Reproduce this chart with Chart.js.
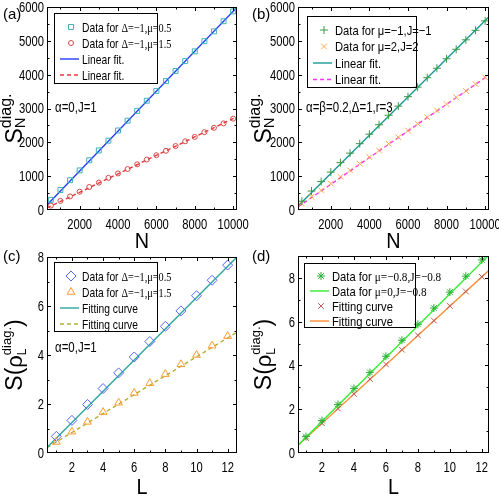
<!DOCTYPE html>
<html>
<head>
<meta charset="utf-8">
<script src="https://cdn.jsdelivr.net/npm/chart.js@4.4.1/dist/chart.umd.min.js"></script>
<style>
  body { margin: 0; background: #fff; }
  #wrap { position: relative; width: 499px; height: 499px; }
  .panel { position: absolute; width: 250px; height: 250px; }
</style>
</head>
<body>
<div id="wrap">
  <div class="panel" style="left:0;top:0"><canvas id="chartA" width="250" height="250"></canvas></div>
  <div class="panel" style="left:249px;top:0"><canvas id="chartB" width="250" height="250"></canvas></div>
  <div class="panel" style="left:0;top:249px"><canvas id="chartC" width="250" height="250"></canvas></div>
  <div class="panel" style="left:249px;top:249px"><canvas id="chartD" width="250" height="250"></canvas></div>
</div>
<script>
// ---- data ----
const nValues = [500, 1000, 1500, 2000, 2500, 3000, 3500, 4000, 4500, 5000,
                 5500, 6000, 6500, 7000, 7500, 8000, 8500, 9000, 9500, 10000];
const lValues = [1, 2, 3, 4, 5, 6, 7, 8, 9, 10, 11, 12];

// (a)
const squaresA = [300, 590, 880, 1170, 1470, 1760, 2050, 2350, 2640, 2930,
                  3230, 3520, 3810, 4110, 4400, 4690, 4990, 5280, 5580, 5870];
const circlesA = [130, 270, 400, 540, 680, 810, 950, 1080, 1210, 1350,
                  1490, 1620, 1750, 1890, 2030, 2160, 2300, 2430, 2560, 2700];
const fitNRange = [300, 10200];
const blueFitA = [150, 5990];
const redFitA = [60, 2760];

// (b)
const plusB = [260, 560, 840, 1120, 1400, 1680, 1960, 2240, 2520, 2800,
               3070, 3350, 3630, 3910, 4190, 4470, 4750, 5030, 5310, 5590];
const crossB = [190, 390, 580, 780, 980, 1170, 1370, 1560, 1760, 1960,
                2150, 2350, 2550, 2740, 2940, 3130, 3330, 3520, 3720, 3920];
const tealFitB = [120, 5710];
const magentaFitB = [90, 3990];

// (c)
const diamondsC = [0.68, 1.33, 1.98, 2.63, 3.27, 3.92, 4.55, 5.17, 5.80, 6.42, 7.05, 7.67];
const trianglesC = [0.45, 0.87, 1.27, 1.67, 2.05, 2.45, 2.85, 3.22, 3.62, 4.00, 4.38, 4.77];
const fitLRangeC = [0.4, 12.6];
const tealFitC = [0.22, 8.0];
const oliveFitC = [0.22, 4.93];

// (d)
const starsD = [0.75, 1.48, 2.22, 2.95, 3.68, 4.42, 5.15, 5.88, 6.62, 7.35, 8.08, 8.82];
const crossesD = [0.68, 1.36, 2.03, 2.70, 3.38, 4.05, 4.72, 5.38, 6.05, 6.72, 7.38, 8.05];
const fitLRangeD = [0.5, 12.45];
const greenFitD = [0.35, 9.05];
const orangeFitD = [0.35, 8.35];

// tick labels
const nTicks = [2000, 4000, 6000, 8000, 10000];
const sTicksAB = [0, 1000, 2000, 3000, 4000, 5000, 6000];
const lTicks = [2, 4, 6, 8, 10, 12];
const sTicksCD = [0, 2, 4, 6, 8];

const SANS = '"Liberation Sans", Arial, sans-serif';
const SERIF = '"Liberation Serif", "Times New Roman", serif';

const pts = (xs, ys) => xs.map((x, i) => ({ x: x, y: ys[i] }));

function scatter(data, style, color, radius) {
  return {
    type: 'scatter', data: data, pointStyle: style, pointRadius: radius,
    borderColor: color, backgroundColor: 'rgba(0,0,0,0)', pointBorderWidth: 1,
    showLine: false
  };
}
function fitLine(data, color, dash) {
  return {
    type: 'line', data: data, borderColor: color, borderWidth: 1.4,
    borderDash: dash ? [4, 3] : [], pointRadius: 0, fill: false
  };
}

// condensed text, the original uses a narrow face
function narrowText(ctx, text, x, y, sx) {
  ctx.save();
  ctx.translate(x, y);
  ctx.scale(sx, 1);
  ctx.fillText(text, 0, 0);
  ctx.restore();
}

// draws text made of pieces (sub / superscripts); stack:true means the next piece shares x
function drawRich(ctx, items) {
  const w = items.map(it => { ctx.font = it.size + 'px ' + (it.font || SANS); return ctx.measureText(it.t).width; });
  let total = 0, hold = 0;
  items.forEach((it, i) => {
    if (it.stack) hold = Math.max(hold, w[i]);
    else { total += Math.max(hold, w[i]); hold = 0; }
  });
  let x = -total / 2; hold = 0;
  items.forEach((it, i) => {
    ctx.font = it.size + 'px ' + (it.font || SANS);
    ctx.fillText(it.t, x, it.dy || 0);
    if (it.stack) hold = Math.max(hold, w[i]);
    else { x += Math.max(hold, w[i]); hold = 0; }
  });
}

const decoPlugin = {
  id: 'deco',
  afterDraw(chart, args, o) {
    const ctx = chart.ctx, a = chart.chartArea;
    const xs = chart.scales.x, ys = chart.scales.y;
    ctx.save();
    ctx.strokeStyle = '#000';
    ctx.fillStyle = '#000';
    ctx.lineWidth = 1;
    ctx.strokeRect(Math.round(a.left) + 0.5, Math.round(a.top) + 0.5,
                   Math.round(a.right - a.left) - 1, Math.round(a.bottom - a.top) - 1);

    // inward ticks on all four sides
    const minor = (major, step, lo, hi) => {
      const out = [];
      for (let v = major[0] - step; v >= lo; v -= step * 2) out.push(v);
      major.forEach(v => { if (v + step <= hi) out.push(v + step); });
      return out;
    };
    const xTick = (vals, len) => vals.forEach(v => {
      const px = Math.round(xs.getPixelForValue(v)) + 0.5;
      ctx.beginPath();
      ctx.moveTo(px, a.bottom); ctx.lineTo(px, a.bottom - len);
      ctx.moveTo(px, a.top); ctx.lineTo(px, a.top + len);
      ctx.stroke();
    });
    const yTick = (vals, len) => vals.forEach(v => {
      const py = Math.round(ys.getPixelForValue(v)) + 0.5;
      ctx.beginPath();
      ctx.moveTo(a.left, py); ctx.lineTo(a.left + len, py);
      ctx.moveTo(a.right, py); ctx.lineTo(a.right - len, py);
      ctx.stroke();
    });
    xTick(o.xMajor, 4);
    xTick(minor(o.xMajor, o.xStep, xs.min, xs.max), 2.5);
    yTick(o.yMajor.filter(v => v > ys.min && v < ys.max), 4);
    yTick(minor(o.yMajor, o.yStep, ys.min, ys.max), 2.5);

    // tick labels
    ctx.font = '14px ' + SANS;
    ctx.textBaseline = 'middle';
    ctx.textAlign = 'center';
    o.xMajor.forEach(v => narrowText(ctx, String(v), xs.getPixelForValue(v), a.bottom + 15, 0.8));
    ctx.textAlign = 'right';
    o.yMajor.forEach(v => narrowText(ctx, String(v), a.left - 3, ys.getPixelForValue(v) + 1, 0.8));

    // panel label
    ctx.font = '15px ' + SANS;
    ctx.textBaseline = 'alphabetic';
    ctx.textAlign = 'left';
    ctx.fillText(o.label, 3, o.labelY);

    // x title
    ctx.font = '22px ' + SANS;
    ctx.textAlign = 'center';
    narrowText(ctx, o.xTitle, (a.left + a.right) / 2, o.xTitleY, 0.9);

    // y title (rotated)
    ctx.save();
    ctx.translate(o.yTitleX, (a.top + a.bottom) / 2 + (o.yTitleShift || 0));
    ctx.rotate(-Math.PI / 2);
    ctx.textAlign = 'left';
    drawRich(ctx, o.yTitle);
    ctx.restore();

    // note
    ctx.textAlign = 'left';
    ctx.font = '14px ' + SANS;
    narrowText(ctx, o.note[0], o.note[1], o.note[2], 0.82);

    // legend box
    const L = o.legend;
    ctx.strokeRect(L.x + 0.5, L.y + 0.5, L.w, L.h);
    chart.data.datasets.forEach((ds, i) => {
      const ent = L.items[i];
      const yy = L.y + L.first + i * L.gap;
      const mx = L.x + 17;
      ctx.strokeStyle = ds.borderColor;
      if (ds.type === 'line') {
        ctx.lineWidth = 1.4;
        ctx.setLineDash(ds.borderDash);
        ctx.beginPath();
        ctx.moveTo(L.x + 6, yy); ctx.lineTo(L.x + 25, yy);
        ctx.stroke();
        ctx.setLineDash([]);
      } else {
        ctx.lineWidth = 1;
        ctx.fillStyle = 'rgba(0,0,0,0)';
        Chart.helpers.drawPoint(ctx, { pointStyle: ds.pointStyle, radius: ds.pointRadius, rotation: 0, borderWidth: 1 }, mx, yy);
      }
      // text, condensed like the original
      ctx.fillStyle = '#000';
      ctx.save();
      ctx.translate(L.x + 28, yy + 4.5);
      ctx.scale(L.sx, 1);
      let tx = 0;
      ent.forEach(p => {
        ctx.font = '13px ' + (p[1] === 's' ? SERIF : SANS);
        ctx.fillText(p[0], tx, 0);
        tx += ctx.measureText(p[0]).width;
      });
      ctx.restore();
    });
    ctx.restore();
  }
};

function makePanel(id, datasets, sc, deco) {
  new Chart(document.getElementById(id), {
    data: { datasets: datasets },
    plugins: [decoPlugin],
    options: {
      responsive: false,
      animation: false,
      layout: { padding: sc.pad },
      plugins: { legend: { display: false }, tooltip: { enabled: false }, deco: deco },
      scales: {
        x: {
          type: 'linear', min: sc.xMin, max: sc.xMax,
          afterBuildTicks: s => { s.ticks = sc.xTicks.map(v => ({ value: v })); },
          afterFit: s => { s.height = sc.xH; },
          grid: { display: false }, border: { display: false },
          ticks: { display: false }
        },
        y: {
          type: 'linear', min: sc.yMin, max: sc.yMax,
          afterBuildTicks: s => { s.ticks = sc.yTicks.map(v => ({ value: v })); },
          afterFit: s => { s.width = sc.yW; },
          grid: { display: false }, border: { display: false },
          ticks: { display: false }
        }
      }
    }
  });
}

const titleSN = [
  { t: 'S', size: 23 },
  { t: 'N', size: 15, dy: 3, stack: true },
  { t: 'diag.', size: 16, dy: -11 }
];
const titleRho = [
  { t: 'S(', size: 23 },
  { t: 'ρ', size: 22, font: SANS },
  { t: 'L', size: 12, dy: 4, stack: true },
  { t: 'diag.', size: 13, dy: -11 },
  { t: ')', size: 23 }
];

// (a)
makePanel('chartA', [
  scatter(pts(nValues, squaresA), 'rect', '#3fb0b8', 3.5),
  scatter(pts(nValues, circlesA), 'circle', '#d04a4a', 2.5),
  fitLine(pts(fitNRange, blueFitA), '#1f3cff', false),
  fitLine(pts(fitNRange, redFitA), '#ee3333', true)
], { pad: { top: 7, right: 13 }, xMin: 300, xMax: 10200, yMin: 0, yMax: 6000, xTicks: nTicks, yTicks: sTicksAB, xH: 40, yW: 47 },
{ label: '(a)', labelY: 19, xMajor: nTicks, xStep: 1000, yMajor: sTicksAB, yStep: 500,
  xTitle: 'N', xTitleY: 248, yTitle: titleSN, yTitleX: 22, yTitleShift: 10,
  note: ['α=0,J=1', 55, 112],
  legend: { x: 54, y: 13, w: 103, h: 70, first: 14, gap: 16, sx: 0.79,
    items: [[['Data for ', 'a'], ['Δ=−1,μ=0.5', 's']], [['Data for ', 'a'], ['Δ=−1,μ=1.5', 's']], [['Linear fit.', 'a']], [['Linear fit.', 'a']]] } });

// (b)
makePanel('chartB', [
  scatter(pts(nValues, plusB), 'cross', '#3a9a4a', 4),
  scatter(pts(nValues, crossB), 'crossRot', '#ffa64d', 4),
  fitLine(pts(fitNRange, tealFitB), '#1a9a96', false),
  fitLine(pts(fitNRange, magentaFitB), '#ff33ff', true)
], { pad: { top: 7, right: 10 }, xMin: 300, xMax: 10200, yMin: 0, yMax: 6000, xTicks: nTicks, yTicks: sTicksAB, xH: 40, yW: 49 },
{ label: '(b)', labelY: 19, xMajor: nTicks, xStep: 1000, yMajor: sTicksAB, yStep: 500,
  xTitle: 'N', xTitleY: 248, yTitle: titleSN, yTitleX: 22, yTitleShift: 10,
  note: ['α=β=0.2,Δ=1,r=3', 57, 112],
  legend: { x: 58, y: 16, w: 109, h: 71, first: 14, gap: 16.5, sx: 0.86,
    items: [[['Data for μ=−1,J=−1', 'a']], [['Data for μ=2,J=2', 'a']], [['Linear fit.', 'a']], [['Linear fit.', 'a']]] } });

// (c)
makePanel('chartC', [
  scatter(pts(lValues, diamondsC), 'rectRot', '#5566ff', 5),
  scatter(pts(lValues, trianglesC), 'triangle', '#ff9a30', 4.5),
  fitLine(pts(fitLRangeC, tealFitC), '#2aa6a0', false),
  fitLine(pts(fitLRangeC, oliveFitC), '#b4b030', true)
], { pad: { top: 8, right: 13 }, xMin: 0.4, xMax: 12.6, yMin: 0, yMax: 8, xTicks: lTicks, yTicks: sTicksCD, xH: 46, yW: 47 },
{ label: '(c)', labelY: 12, xMajor: lTicks, xStep: 1, yMajor: sTicksCD, yStep: 1,
  xTitle: 'L', xTitleY: 245, yTitle: titleRho, yTitleX: 22, yTitleShift: 0,
  note: ['α=0,J=1', 55, 103],
  legend: { x: 54, y: 13, w: 103, h: 69, first: 14, gap: 16, sx: 0.79,
    items: [[['Data for ', 'a'], ['Δ=−1,μ=0.5', 's']], [['Data for ', 'a'], ['Δ=−1,μ=1.5', 's']], [['Fitting curve', 'a']], [['Fitting curve', 'a']]] } });

// (d)
makePanel('chartD', [
  scatter(pts(lValues, starsD), 'star', '#2fae3a', 4),
  fitLine(pts(fitLRangeD, greenFitD), '#33ee33', false),
  scatter(pts(lValues, crossesD), 'crossRot', '#c05a5a', 4),
  fitLine(pts(fitLRangeD, orangeFitD), '#ff8c30', false)
], { pad: { top: 7, right: 10 }, xMin: 0.5, xMax: 12.45, yMin: 0, yMax: 9, xTicks: lTicks, yTicks: sTicksCD, xH: 46, yW: 49 },
{ label: '(d)', labelY: 12, xMajor: lTicks, xStep: 1, yMajor: sTicksCD, yStep: 1,
  xTitle: 'L', xTitleY: 245, yTitle: titleRho, yTitleX: 22, yTitleShift: 0,
  note: ['', 0, 0],
  legend: { x: 55, y: 14, w: 111, h: 64, first: 13, gap: 15, sx: 0.86,
    items: [[['Data for ', 'a'], ['μ=−0.8,J=−0.8', 's']], [['Data for ', 'a'], ['μ=0,J=−0.8', 's']], [['Fitting curve', 'a']], [['Fitting curve', 'a']]] } });
</script>
</body>
</html>
